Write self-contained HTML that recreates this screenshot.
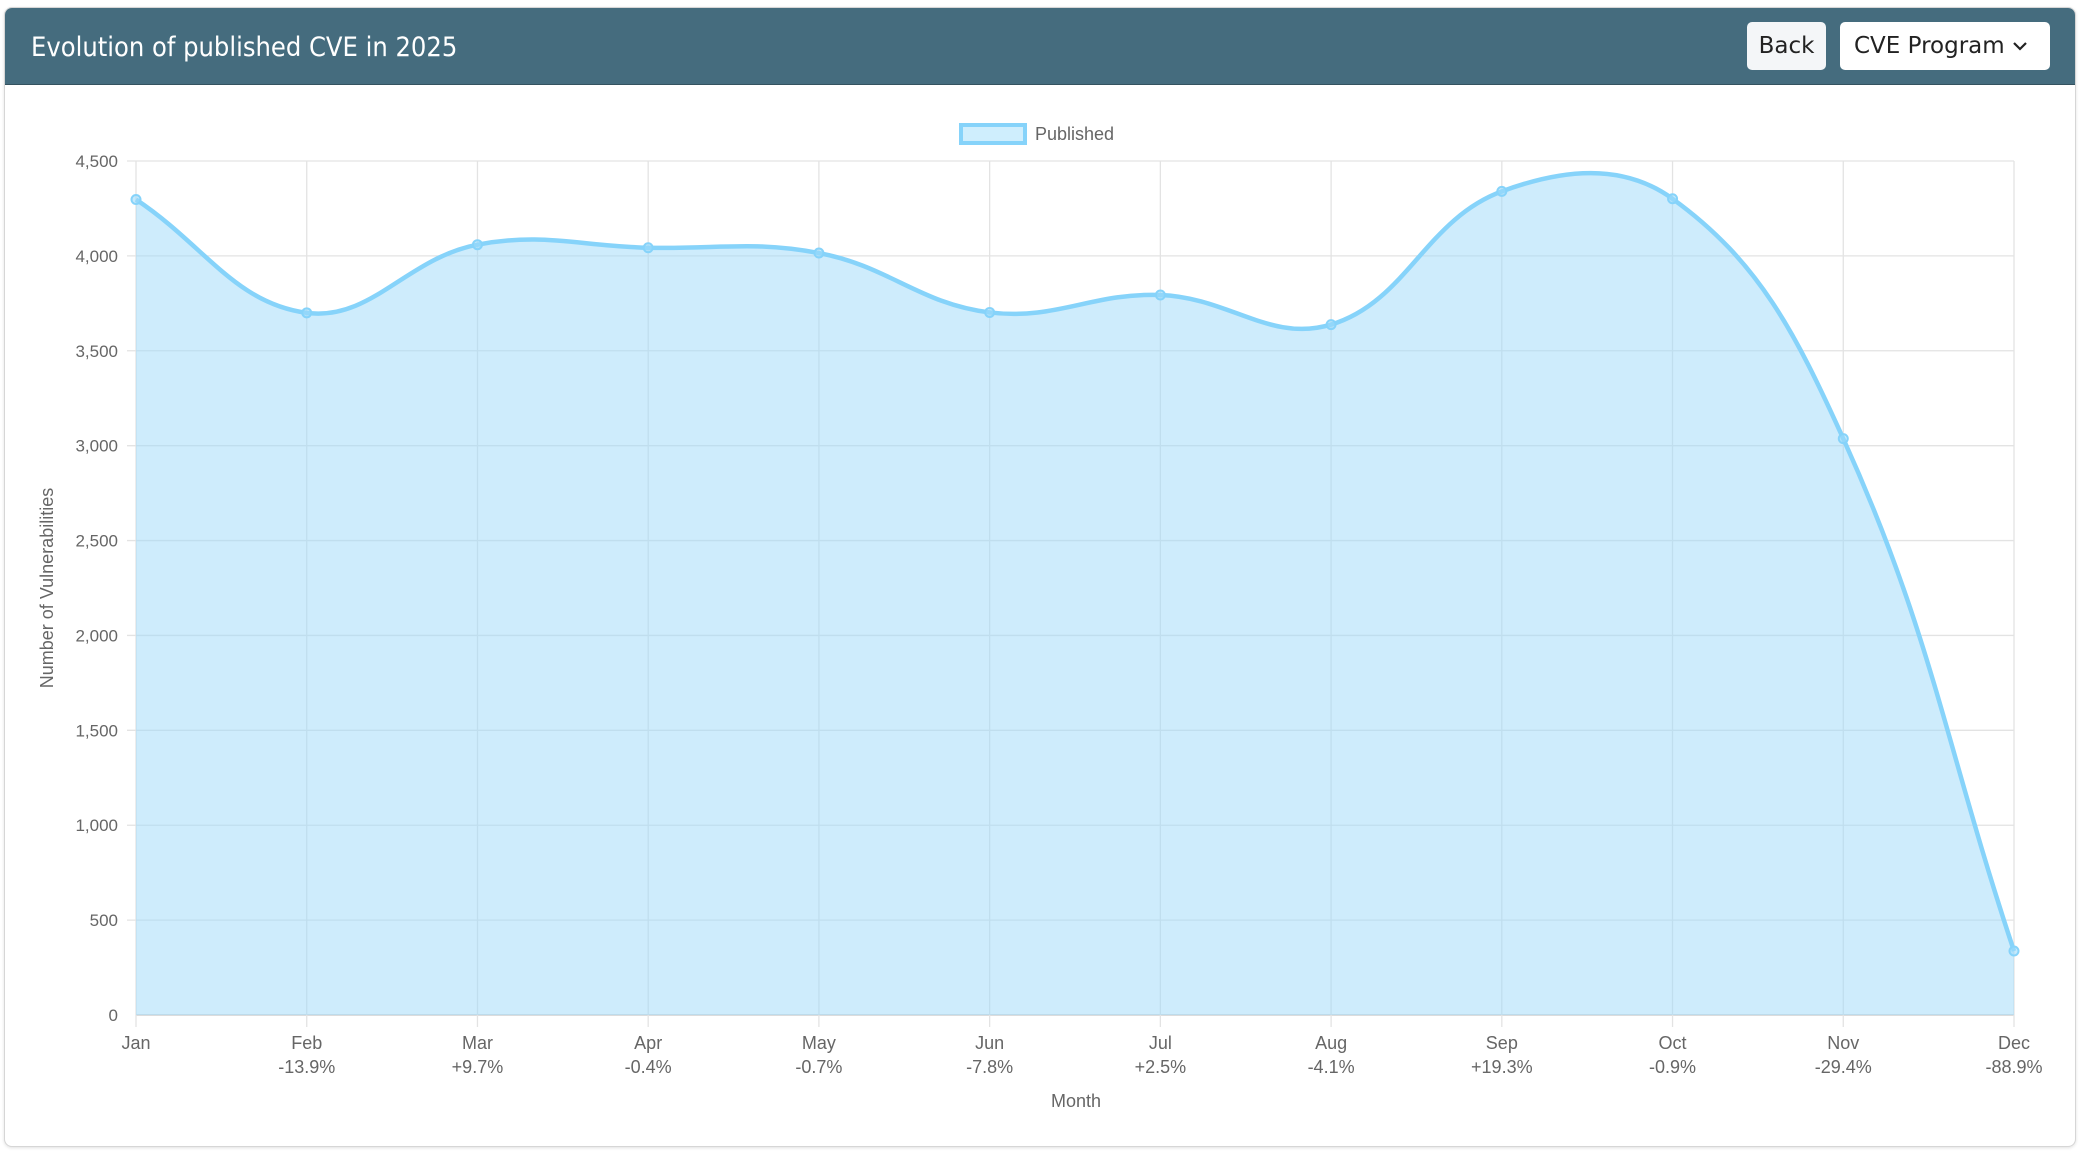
<!DOCTYPE html>
<html><head><meta charset="utf-8"><style>
html,body{margin:0;padding:0;background:#fff;width:2082px;height:1155px;overflow:hidden;font-family:"Liberation Sans",sans-serif}
.card{position:absolute;left:4px;top:7px;width:2070px;height:1138px;border:1px solid #d6d6d6;border-radius:8px;box-shadow:0 1px 3px rgba(0,0,0,.12);overflow:hidden;background:#fff}
.hdr{position:absolute;left:0;top:0;right:0;height:76px;background:#456c7e;border-bottom:1px solid #34525f}
.title{position:absolute;left:26px;top:24px;color:#fff;font-size:27px;font-family:"DejaVu Sans Condensed","Liberation Sans",sans-serif}
.btn{position:absolute;top:14px;height:48px;border-radius:5px;font-size:23px;line-height:48px;color:#222;font-family:"DejaVu Sans","Liberation Sans",sans-serif}
</style></head><body>
<div class="card">
<div class="hdr">
<div class="title">Evolution of published CVE in 2025</div>
<div class="btn" style="left:1742px;width:79px;background:#f4f6f8;text-align:center">Back</div>
<div class="btn" style="left:1835px;width:210px;background:#fff;padding-left:14px;box-sizing:border-box">CVE Program<svg style="position:absolute;right:22px;top:18px" width="16" height="12"><polyline points="2,3 8,9 14,3" fill="none" stroke="#222" stroke-width="2.2"/></svg></div>
</div>
</div>
<svg id="s" width="2082" height="1155" style="position:absolute;left:0;top:0" font-family="Liberation Sans, sans-serif"></svg>
<script>
var s=document.getElementById('s');
var X0=136,X1=2014,Y0=1015,YT=161;
var vals=[4297,3700,4059,4043,4015,3702,3794,3638,4340,4301,3037,337];
var mon=['Jan','Feb','Mar','Apr','May','Jun','Jul','Aug','Sep','Oct','Nov','Dec'];
var pct=['','-13.9%','+9.7%','-0.4%','-0.7%','-7.8%','+2.5%','-4.1%','+19.3%','-0.9%','-29.4%','-88.9%'];
function px(i){return X0+(X1-X0)*i/11}
function py(v){return Y0-(Y0-YT)*v/4500}
var h='';
for(var k=0;k<=9;k++){var y=py(k*500);h+='<line x1="'+(k==0?136:127)+'" x2="2014" y1="'+y+'" y2="'+y+'" stroke="'+(k==0?'#c8c8c8':'#e3e3e3')+'" stroke-width="1.3"/>';
h+='<text x="118" y="'+(y+6)+'" text-anchor="end" font-size="17" fill="#666">'+(k*500).toLocaleString('en-US')+'</text>';}
var pts=vals.map(function(v,i){return [px(i),py(v)]});
for(var i=0;i<12;i++){var x=pts[i][0];h+='<line x1="'+x+'" x2="'+x+'" y1="161" y2="1027" stroke="#e3e3e3" stroke-width="1.3"/>';
h+='<text x="'+x+'" y="1049" text-anchor="middle" font-size="18" fill="#666">'+mon[i]+'</text>';
if(pct[i])h+='<text x="'+x+'" y="1073" text-anchor="middle" font-size="18" fill="#666">'+pct[i]+'</text>';}
var t=0.4,cp=[];
for(var i=0;i<12;i++){var p=pts[i],pr=pts[Math.max(i-1,0)],nx=pts[Math.min(i+1,11)];
var d01=Math.hypot(p[0]-pr[0],p[1]-pr[1]),d12=Math.hypot(nx[0]-p[0],nx[1]-p[1]);
var s01=d01/(d01+d12)||0,s12=d12/(d01+d12)||0,fa=t*s01,fb=t*s12;
cp.push({p:[p[0]-fa*(nx[0]-pr[0]),p[1]-fa*(nx[1]-pr[1])],n:[p[0]+fb*(nx[0]-pr[0]),p[1]+fb*(nx[1]-pr[1])]});}
var d='M'+pts[0][0]+','+pts[0][1];
for(var i=1;i<12;i++){d+=' C'+cp[i-1].n[0]+','+cp[i-1].n[1]+' '+cp[i].p[0]+','+cp[i].p[1]+' '+pts[i][0]+','+pts[i][1];}
h+='<path d="'+d+' L2014,1015 L136,1015 Z" fill="rgba(157,218,250,0.5)"/>';
h+='<path d="'+d+'" fill="none" stroke="#86d3fa" stroke-width="4.5"/>';
for(var i=0;i<12;i++)h+='<circle cx="'+pts[i][0]+'" cy="'+pts[i][1]+'" r="4.5" fill="rgba(157,218,250,0.6)" stroke="#86d3fa" stroke-width="2"/>';
h+='<rect x="961" y="125" width="64" height="18" fill="#cfeefd" stroke="#86d3fa" stroke-width="4"/>';
h+='<text x="1035" y="140" font-size="18" fill="#666">Published</text>';
h+='<text x="1076" y="1107" text-anchor="middle" font-size="18" fill="#666">Month</text>';
h+='<text transform="translate(53,588) rotate(-90)" text-anchor="middle" font-size="18" fill="#666">Number of Vulnerabilities</text>';
s.innerHTML=h;
</script>
</body></html>
